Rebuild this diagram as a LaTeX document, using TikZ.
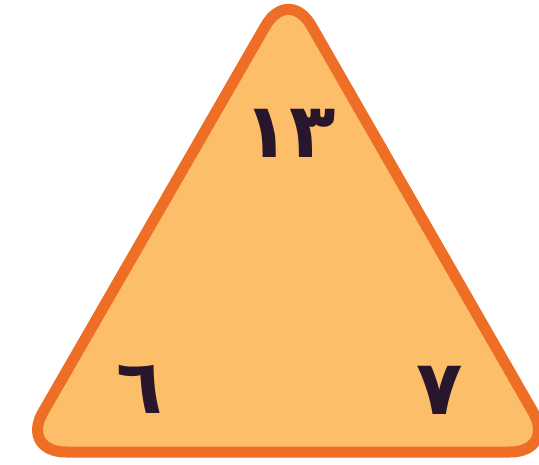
\documentclass[tikz,border=0pt]{standalone}
\usepackage{fontspec}
\newfontfamily\arabicfont[Script=Arabic]{DejaVu Sans}
\TeXXeTstate=1
\usetikzlibrary{calc}
\definecolor{triFill}{RGB}{252,190,105}
\definecolor{triEdge}{RGB}{239,110,38}
\definecolor{numInk}{RGB}{40,22,45}

\begin{document}
\begin{tikzpicture}[x=1pt, y=-1pt,
  tri/.style={draw=triEdge, fill=triFill, line width=11pt,
              rounded corners=46pt, line join=round},
  num/.style={text=numInk, inner sep=0pt,
              font=\arabicfont\bfseries\fontsize{76}{76}\selectfont},
]
  \useasboundingbox (0,0) rectangle (539,464);
  %% Corners of the triangle
  \coordinate (apex) at (288.5,-14);
  \coordinate (cornerL) at (20,452);
  \coordinate (cornerR) at (556,452);
  \coordinate (base) at ($(cornerL)!0.5!(cornerR)$);
  \draw[tri] (base) -- (cornerR) -- (apex) -- (cornerL) -- cycle;
  %% Numbers at the corners
  \node[num] (topnum)   at (290,133) {١٣};
  \node[num] (sixnum)   at (140,389) {٦};
  \node[num] (sevennum) at (440,390) {٧};
\end{tikzpicture}
\end{document}
